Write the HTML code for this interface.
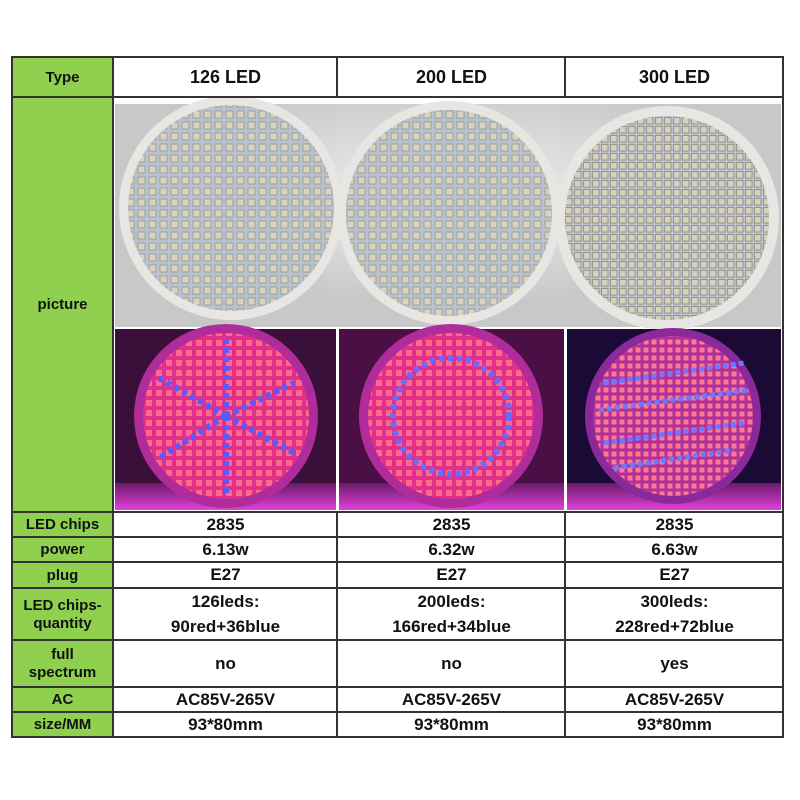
<!DOCTYPE html>
<html><head><meta charset="utf-8"><style>
body{margin:0;width:800px;height:800px;background:#fff;position:relative;overflow:hidden;font-family:"Liberation Sans",Arial,sans-serif;font-weight:bold;color:#111}
.c{position:absolute;display:flex;align-items:center;justify-content:center;text-align:center;box-sizing:border-box;line-height:1.2}
.g{background:#8fd14f;font-size:15px}
.v{font-size:17px}
.h{position:absolute;background:#333;height:2px}
.vl{position:absolute;background:#333;width:2px}
</style></head><body>
<svg style="position:absolute;left:114px;top:98px" width="669" height="414">
<defs>
<pattern id="chipG" width="11" height="11" patternUnits="userSpaceOnUse"><rect width="11" height="11" fill="#b8c3d2"/><rect x="2" y="2" width="7" height="7" fill="#d9d3c0" stroke="#9a9584" stroke-width="0.8"/></pattern>
<pattern id="chipG2" width="9" height="9" patternUnits="userSpaceOnUse"><rect width="9" height="9" fill="#b8c3d2"/><rect x="1.5" y="1.5" width="6.5" height="6.5" fill="#d6d0bc" stroke="#8e8a7a" stroke-width="0.8"/></pattern>
<pattern id="red" width="10" height="10" patternUnits="userSpaceOnUse"><rect width="10" height="10" fill="#e0308a"/><rect x="2" y="2" width="6" height="6" fill="#ff6a8a"/></pattern>
<pattern id="red2" width="8" height="8" patternUnits="userSpaceOnUse"><rect width="8" height="8" fill="#b030a0"/><rect x="1.5" y="1.5" width="5" height="5" fill="#ff7a8a"/></pattern>
<radialGradient id="bg1" cx="50%" cy="40%"><stop offset="0" stop-color="#f0f0f0"/><stop offset="1" stop-color="#c8c8c8"/></radialGradient>
<linearGradient id="glow" x1="0" y1="0" x2="0" y2="1"><stop offset="0" stop-color="#6a1a6a"/><stop offset="1" stop-color="#e040d8"/></linearGradient>
</defs>
<rect x="1" y="6" width="666" height="223" fill="url(#bg1)"/>
<circle cx="117" cy="110" r="112" fill="#e8e6e2"/><circle cx="117" cy="110" r="103" fill="url(#chipG)"/>
<circle cx="335" cy="115" r="112" fill="#e8e6e2"/><circle cx="335" cy="115" r="103" fill="url(#chipG)"/>
<circle cx="553" cy="120" r="112" fill="#e8e6e2"/><circle cx="553" cy="120" r="102" fill="url(#chipG2)"/>
<rect x="1" y="231" width="221" height="181" fill="#3a0f3a"/>
<rect x="225" y="231" width="225" height="181" fill="#4a0f45"/>
<rect x="453" y="231" width="214" height="181" fill="#1a0a35"/>
<rect x="1" y="385" width="221" height="27" fill="url(#glow)"/>
<rect x="225" y="385" width="225" height="27" fill="url(#glow)"/>
<rect x="453" y="385" width="214" height="27" fill="url(#glow)"/>
<circle cx="112" cy="318" r="92" fill="#b02c9a"/><circle cx="112" cy="318" r="83" fill="url(#red)"/>
<g stroke="#5a5aff" stroke-width="6" stroke-dasharray="5 4">
<line x1="112" y1="318" x2="112" y2="240"/><line x1="112" y1="318" x2="180" y2="285"/><line x1="112" y1="318" x2="180" y2="355"/><line x1="112" y1="318" x2="112" y2="396"/><line x1="112" y1="318" x2="45" y2="360"/><line x1="112" y1="318" x2="45" y2="280"/></g>
<circle cx="337" cy="318" r="92" fill="#b02c9a"/><circle cx="337" cy="318" r="83" fill="url(#red)"/>
<circle cx="337" cy="318" r="58" fill="none" stroke="#6a6aff" stroke-width="6" stroke-dasharray="5 4"/>
<circle cx="559" cy="318" r="88" fill="#8a2a9a"/><circle cx="559" cy="318" r="80" fill="url(#red2)"/>
<g stroke="#6a7aff" stroke-width="5" stroke-dasharray="5 3"><line x1="490" y1="285" x2="630" y2="265"/><line x1="485" y1="312" x2="635" y2="292"/><line x1="490" y1="345" x2="630" y2="325"/><line x1="500" y1="370" x2="620" y2="352"/></g>
</svg>

<div class="c g" style="left:12px;top:58px;width:101px;height:39px">Type</div>
<div class="c v" style="left:114px;top:58px;width:223px;height:39px;font-size:18px">126 LED</div>
<div class="c v" style="left:338px;top:58px;width:227px;height:39px;font-size:18px">200 LED</div>
<div class="c v" style="left:566px;top:58px;width:217px;height:39px;font-size:18px">300 LED</div>
<div class="c g" style="left:12px;top:98px;width:101px;height:414px">picture</div>

<div class="c g" style="left:12px;top:513px;width:101px;height:24px">LED chips</div>
<div class="c g" style="left:12px;top:538px;width:101px;height:24px">power</div>
<div class="c g" style="left:12px;top:563px;width:101px;height:25px">plug</div>
<div class="c g" style="left:12px;top:589px;width:101px;height:51px">LED chips-<br>quantity</div>
<div class="c g" style="left:12px;top:641px;width:101px;height:46px">full<br>spectrum</div>
<div class="c g" style="left:12px;top:688px;width:101px;height:24px">AC</div>
<div class="c g" style="left:12px;top:713px;width:101px;height:24px">size/MM</div>

<div id="cells"></div>

<div class="h" style="left:11px;top:56px;width:773px"></div>
<div class="h" style="left:11px;top:96px;width:773px"></div>
<div class="h" style="left:11px;top:511px;width:773px"></div>
<div class="h" style="left:11px;top:536px;width:773px"></div>
<div class="h" style="left:11px;top:561px;width:773px"></div>
<div class="h" style="left:11px;top:587px;width:773px"></div>
<div class="h" style="left:11px;top:639px;width:773px"></div>
<div class="h" style="left:11px;top:686px;width:773px"></div>
<div class="h" style="left:11px;top:711px;width:773px"></div>
<div class="h" style="left:11px;top:736px;width:773px"></div>
<div class="vl" style="left:11px;top:56px;height:682px"></div>
<div class="vl" style="left:112px;top:56px;height:682px"></div>
<div class="vl" style="left:336px;top:56px;height:42px"></div>
<div class="vl" style="left:564px;top:56px;height:42px"></div>
<div class="vl" style="left:336px;top:511px;height:227px"></div>
<div class="vl" style="left:564px;top:511px;height:227px"></div>
<div class="vl" style="left:782px;top:56px;height:682px"></div>

<script>
const rows=[[513,24],[538,24],[563,25],[589,51],[641,46],[688,24],[713,24]];
const cols=[[114,223],[338,227],[566,217]];
const vals=[
["2835","2835","2835"],
["6.13w","6.32w","6.63w"],
["E27","E27","E27"],
["126leds:<br>90red+36blue","200leds:<br>166red+34blue","300leds:<br>228red+72blue"],
["no","no","yes"],
["AC85V-265V","AC85V-265V","AC85V-265V"],
["93*80mm","93*80mm","93*80mm"]];
const cont=document.getElementById('cells');
rows.forEach((r,i)=>cols.forEach((c,j)=>{
const d=document.createElement('div');
d.className='c v';


d.style.cssText=`left:${c[0]}px;top:${r[0]}px;width:${c[1]}px;height:${r[1]}px;`+(i==3?'line-height:1.45':'');
d.innerHTML=vals[i][j];
cont.appendChild(d);
}));
</script>
</body></html>
